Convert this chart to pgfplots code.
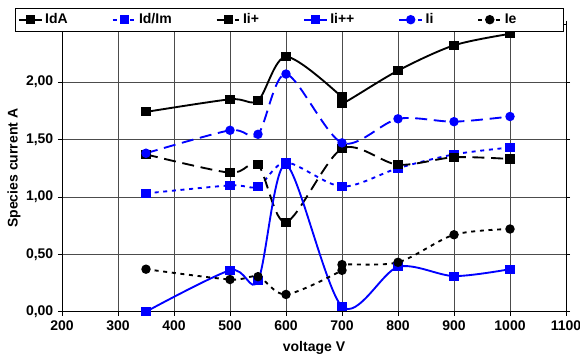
\documentclass[border=0pt]{standalone}
\usepackage{pgfplots}
\pgfplotsset{compat=1.18}
\usepackage{fontspec}
\setmainfont{Liberation Sans}
\definecolor{eblue}{RGB}{0,0,255}
\begin{document}
\begin{tikzpicture}
\begin{axis}[
  scale only axis, width=378pt, height=215.25pt,
  xmin=200, xmax=1100, ymin=0, ymax=2.5,
  xtick={200,300,...,1100}, ytick={0,0.5,1,1.5,2},
  grid=major, grid style={draw=black!70, line width=0.5pt},
  axis line style={black, line width=0.7pt},
  tick align=outside, major tick length=3pt, tick style={black, line width=0.5pt},
  font=\bfseries\fontsize{10.5}{12}\selectfont,
  /pgf/number format/assume math mode=true,
  yticklabel style={/pgf/number format/.cd, fixed, fixed zerofill, precision=2, use comma},
  xticklabel style={/pgf/number format/.cd, fixed, 1000 sep={}},
  xlabel={voltage V}, ylabel={Species current A},
  xlabel style={at={(axis description cs:0.5,-0.128)}, anchor=center},
  ylabel style={at={(axis description cs:-0.095,0.5)}, anchor=center},
  legend columns=6,
  legend style={at={(axis description cs:-0.0933,1.058)}, anchor=north west,
    draw=black, fill=white, font=\bfseries\fontsize{10.5}{12}\selectfont,
    inner sep=2pt,
    /tikz/every even column/.append style={column sep=31pt}},
  every axis plot/.append style={line width=1.4pt},
]
\addplot[black, smooth, mark=square*, mark size=2.7pt, mark options={solid}]
  coordinates {(350,1.74) (500,1.85) (550,1.84) (600,2.22) (700,1.87) (700,1.81) (800,2.10) (900,2.32) (1000,2.42)};
\addlegendentry{IdA}
\addplot[eblue, smooth, dash pattern=on 3pt off 3.5pt, mark=square*, mark size=2.7pt, mark options={solid}]
  coordinates {(350,1.03) (500,1.10) (550,1.09) (600,1.30) (700,1.09) (800,1.25) (900,1.37) (1000,1.43)};
\addlegendentry{Id/Im}
\addplot[black, smooth, dash pattern=on 9pt off 5pt, mark=square*, mark size=2.7pt, mark options={solid}]
  coordinates {(350,1.37) (500,1.21) (550,1.28) (600,0.78) (700,1.42) (800,1.28) (900,1.345) (1000,1.33)};
\addlegendentry{Ii+}
\addplot[eblue, smooth, mark=square*, mark size=2.7pt, mark options={solid}]
  coordinates {(350,0.0) (500,0.36) (550,0.27) (600,1.28) (700,0.045) (800,0.39) (900,0.31) (1000,0.37)};
\addlegendentry{Ii++}
\addplot[eblue, smooth, dash pattern=on 9pt off 5pt, mark=*, mark size=2.8pt, mark options={solid}]
  coordinates {(350,1.38) (500,1.58) (550,1.545) (600,2.07) (700,1.47) (800,1.68) (900,1.655) (1000,1.70)};
\addlegendentry{Ii}
\addplot[black, smooth, dash pattern=on 3pt off 3.5pt, mark=*, mark size=2.8pt, mark options={solid}]
  coordinates {(350,0.37) (500,0.28) (550,0.305) (600,0.15) (700,0.36) (700,0.41) (800,0.43) (900,0.67) (1000,0.72)};
\addlegendentry{\makebox[40pt][l]{Ie}}
\coordinate (bl) at (rel axis cs:0,0);
\coordinate (tr) at (rel axis cs:1,1);
\end{axis}
\pgfresetboundingbox
\path[use as bounding box] ([xshift=-46.5pt,yshift=-33.2pt]bl) rectangle ([xshift=10.5pt,yshift=18.5pt]tr);
\end{tikzpicture}
\end{document}
